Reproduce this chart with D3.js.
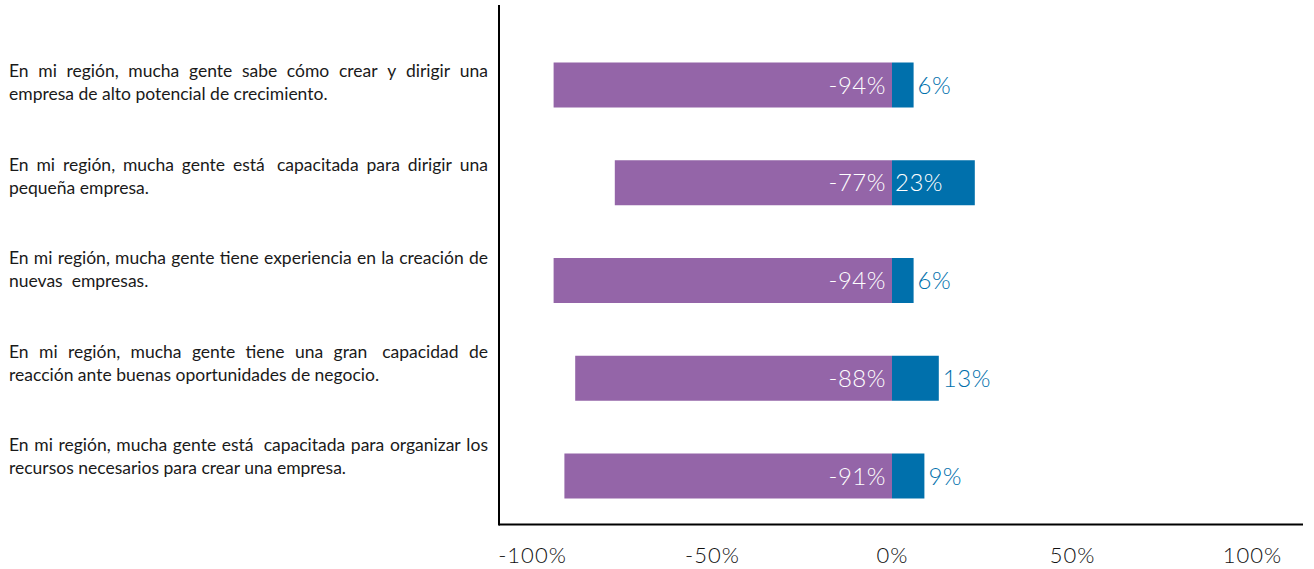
<!DOCTYPE html>
<html>
<head>
<meta charset="utf-8">
<script src="https://cdn.jsdelivr.net/npm/d3@7"></script>
<style>
  html, body { margin: 0; padding: 0; background: #fff; }
  svg { display: block; }
</style>
</head>
<body>
<svg id="chart" width="1314" height="569"></svg>
<script>
// Statement text, one array entry per printed line
const categoryLines = [
  ["En mi región, mucha gente sabe cómo crear y dirigir una", "empresa de alto potencial de crecimiento."],
  ["En mi región, mucha gente está  capacitada para dirigir una", "pequeña empresa."],
  ["En mi región, mucha gente tiene experiencia en la creación de", "nuevas  empresas."],
  ["En mi región, mucha gente tiene una gran  capacidad de", "reacción ante buenas oportunidades de negocio."],
  ["En mi región, mucha gente está  capacitada para organizar los", "recursos necesarios para crear una empresa."]
];
// Share of answers in disagreement (negative) and agreement (positive)
const disagreeValues = [-94, -77, -94, -88, -91];
const agreeValues = [6, 23, 6, 13, 9];
const tickValues = [-100, -50, 0, 50, 100];

const colors = { disagree: "#9465A8", agree: "#0070AC" };

const svg = d3.select("#chart");
const idx = d3.range(categoryLines.length);

const x = d3.scaleLinear().domain([-100, 100]).range([532, 1252]);
const y = d3.scalePoint().domain(idx).range([85, 476]);
const yLabel = d3.scalePoint().domain(idx).range([82.5, 456.5]);
const barH = 45;

// Bars
const rows = svg.append("g").selectAll("g").data(idx).join("g");
rows.append("rect")
  .attr("x", i => x(disagreeValues[i]))
  .attr("y", i => y(i) - barH / 2)
  .attr("width", i => x(0) - x(disagreeValues[i]))
  .attr("height", barH)
  .attr("fill", colors.disagree);
rows.append("rect")
  .attr("x", x(0))
  .attr("y", i => y(i) - barH / 2)
  .attr("width", i => x(agreeValues[i]) - x(0))
  .attr("height", barH)
  .attr("fill", colors.agree);

// Value labels, set inside each bar next to the zero line
function styleValue(sel) {
  return sel.attr("dy", "0.36em")
    .style("font-family", "Lato")
    .style("font-size", "24px")
    .style("font-weight", 300)
    .style("letter-spacing", "0.5px");
}
rows.append("text")
  .attr("x", x(0) - 6)
  .attr("y", i => y(i))
  .attr("text-anchor", "end")
  .attr("fill", "#fff")
  .call(styleValue)
  .text(i => disagreeValues[i] + "%");

const pad = 3;
rows.append("text")
  .attr("y", i => y(i))
  .attr("text-anchor", "start")
  .call(styleValue)
  .text(i => agreeValues[i] + "%")
  .each(function (i) {
    // a label wider than its bar continues just past the bar end
    const t = d3.select(this);
    const w = this.getComputedTextLength();
    const barW = x(agreeValues[i]) - x(0);
    if (w + pad <= barW) {
      t.attr("x", x(0) + pad).attr("fill", "#fff");
    } else {
      t.attr("x", x(agreeValues[i]) + 4).attr("fill", colors.agree);
    }
  });

// Axes
const xAxis = d3.axisBottom(x)
  .tickValues(tickValues)
  .tickSize(0)
  .tickPadding(0)
  .tickFormat(d => String(d) + "%");
const gx = svg.append("g").attr("transform", "translate(0,555)").call(xAxis);
gx.select(".domain").remove();
gx.selectAll("text")
  .attr("dy", "0.36em")
  .attr("fill", "#111")
  .style("font-family", "Lato")
  .style("font-size", "22px")
  .style("font-weight", 300)
  .style("letter-spacing", "1px");

svg.append("line")
  .attr("x1", 499).attr("x2", 1303)
  .attr("y1", 524.5).attr("y2", 524.5)
  .attr("stroke", "#000").attr("stroke-width", 2);
svg.append("line")
  .attr("x1", 499).attr("x2", 499)
  .attr("y1", 5).attr("y2", 525.5)
  .attr("stroke", "#000").attr("stroke-width", 2);

// Statement labels, justified to a fixed column width
const labelLeft = 9, labelRight = 488, lineGap = 23;
const labelFontSize = 17.5;
const labels = svg.append("g")
  .style("font-family", "Lato")
  .style("font-size", labelFontSize + "px")
  .attr("fill", "#1a1a1a");

function measure(str) {
  const t = labels.append("text").style("white-space", "pre").text(str);
  const w = t.node().getComputedTextLength();
  t.remove();
  return w;
}
const spaceW = measure("a a") - measure("aa");

idx.forEach(i => {
  const lines = categoryLines[i];
  const top = yLabel(i) - (lines.length - 1) * lineGap / 2;
  lines.forEach((line, li) => {
    const baseY = top + li * lineGap;
    const last = li === lines.length - 1;
    if (last) {
      labels.append("text")
        .attr("x", labelLeft).attr("y", baseY).attr("dy", "0.36em")
        .style("white-space", "pre")
        .text(line);
      return;
    }
    // words with the number of spaces that follow each
    const parts = [...line.matchAll(/(\S+)(\s*)/g)].map(m => ({ w: m[1], s: m[2].length }));
    const widths = parts.map(p => measure(p.w));
    const gaps = parts.slice(0, -1).map(p => p.s);
    const natural = d3.sum(widths) + d3.sum(gaps) * spaceW;
    const extra = gaps.length ? (labelRight - labelLeft - natural) / gaps.length : 0;
    let cx = labelLeft;
    parts.forEach((p, k) => {
      labels.append("text")
        .attr("x", cx).attr("y", baseY).attr("dy", "0.36em")
        .text(p.w);
      if (k < gaps.length) cx += widths[k] + gaps[k] * spaceW + extra;
    });
  });
});
</script>
</body>
</html>
